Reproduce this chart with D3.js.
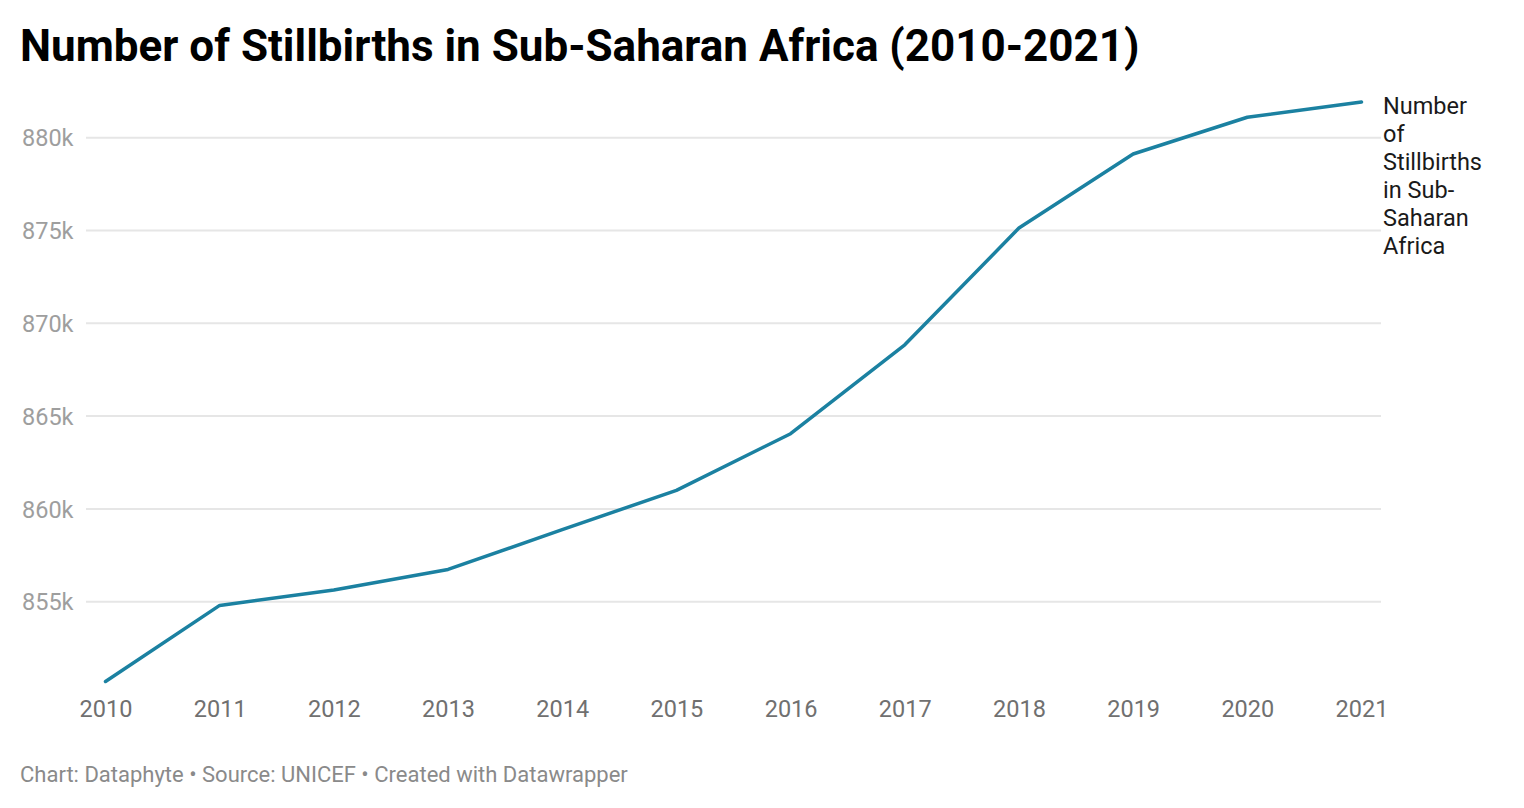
<!DOCTYPE html>
<html>
<head>
<meta charset="utf-8">
<script src="https://cdn.jsdelivr.net/npm/d3@7"></script>
<style>
  html, body { margin: 0; padding: 0; background: #fff; }
  svg { display: block; font-family: Roboto, sans-serif; }
</style>
</head>
<body>
<svg id="chart" width="1524" height="808"></svg>
<script>
const years = [2010, 2011, 2012, 2013, 2014, 2015, 2016, 2017, 2018, 2019, 2020, 2021];
const stillbirths = [850700, 854800, 855630, 856740, 858880, 861000, 864050, 868840, 875130, 879120, 881100, 881920];
const yTicks = [855000, 860000, 865000, 870000, 875000, 880000];
const titleText = "Number of Stillbirths in Sub-Saharan Africa (2010-2021)";
const seriesLabel = ["Number", "of", "Stillbirths", "in Sub-", "Saharan", "Africa"];
const footerText = "Chart: Dataphyte • Source: UNICEF • Created with Datawrapper";

const svg = d3.select("#chart");

const x = d3.scaleLinear().domain([2010, 2021]).range([105.5, 1361.5]);
const y = d3.scaleLinear().domain([855000, 880000]).range([601.7, 137.7]);

// Title
svg.append("text")
  .attr("x", 20).attr("y", 61)
  .attr("font-size", 44).attr("font-weight", 700)
  .attr("fill", "#000")
  .text(titleText);

// Gridlines
svg.append("g").selectAll("line").data(yTicks).join("line")
  .attr("x1", 86).attr("x2", 1381)
  .attr("y1", d => y(d)).attr("y2", d => y(d))
  .attr("stroke", "#e6e6e6").attr("stroke-width", 2);

// Y axis labels
const yAxis = d3.axisLeft(y).tickValues(yTicks).tickSize(0)
  .tickFormat(d => d3.format("d")(d / 1000) + "k");
const gy = svg.append("g").attr("transform", "translate(22,0)").call(yAxis);
gy.select(".domain").remove();
gy.selectAll("text")
  .attr("text-anchor", "start").attr("x", 0).attr("dy", "0.35em")
  .attr("font-size", 23.5).attr("fill", "#9e9e9e").attr("font-family", "Roboto, sans-serif");

// X axis labels
const xAxis = d3.axisBottom(x).tickValues(years).tickSize(0).tickFormat(d3.format("d"));
const gx = svg.append("g").attr("transform", "translate(0,700)").call(xAxis);
gx.select(".domain").remove();
gx.selectAll("text")
  .attr("y", 0).attr("dy", "0.71em")
  .attr("font-size", 23.5).attr("fill", "#707070").attr("font-family", "Roboto, sans-serif");

// Line
const line = d3.line().x((d, i) => x(years[i])).y(d => y(d));
svg.append("path")
  .datum(stillbirths)
  .attr("d", line)
  .attr("fill", "none")
  .attr("stroke", "#1b81a1")
  .attr("stroke-width", 3.5)
  .attr("stroke-linejoin", "round")
  .attr("stroke-linecap", "round");

// Series label
const lbl = svg.append("text")
  .attr("x", 1383).attr("y", 114)
  .attr("font-size", 23.5).attr("fill", "#1a1a1a");
lbl.selectAll("tspan").data(seriesLabel).join("tspan")
  .attr("x", 1383)
  .attr("dy", (d, i) => i === 0 ? 0 : 28)
  .text(d => d);

// Footer
svg.append("text")
  .attr("x", 20).attr("y", 782)
  .attr("font-size", 22).attr("fill", "#8a8a8a")
  .text(footerText);
</script>
</body>
</html>
